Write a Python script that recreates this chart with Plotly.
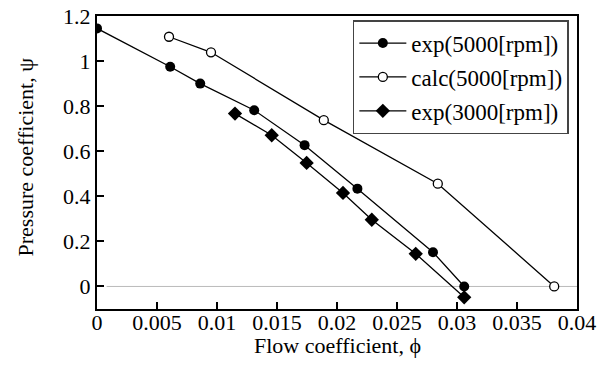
import plotly.graph_objects as go

exp5000_x = [0.0, 0.0061, 0.0086, 0.0131, 0.0173, 0.0217, 0.0280, 0.0306]
exp5000_y = [1.145, 0.975, 0.90, 0.782, 0.627, 0.434, 0.152, 0.0]
calc5000_x = [0.0060, 0.0095, 0.0189, 0.0284, 0.0381]
calc5000_y = [1.108, 1.039, 0.738, 0.456, 0.0]
exp3000_x = [0.0115, 0.01456, 0.01747, 0.0205, 0.0229, 0.02656, 0.0306]
exp3000_y = [0.767, 0.671, 0.548, 0.415, 0.296, 0.145, -0.048]

x_ticks = [0, 0.005, 0.01, 0.015, 0.02, 0.025, 0.03, 0.035, 0.04]
x_labels = ["0", "0.005", "0.01", "0.015", "0.02", "0.025", "0.03", "0.035", "0.04"]
y_ticks = [0, 0.2, 0.4, 0.6, 0.8, 1.0, 1.2]
y_labels = ["0", "0.2", "0.4", "0.6", "0.8", "1", "1.2"]

FONT = "Times New Roman, Liberation Serif, Tinos, serif"

fig = go.Figure()
fig.add_shape(type="line", xref="x", yref="y", x0=0.0008, x1=0.04, y0=0, y1=0,
              line=dict(color="#bbbbbb", width=1), layer="below")
fig.add_trace(go.Scatter(x=exp5000_x, y=exp5000_y, mode="lines+markers",
                         name="exp(5000[rpm])", legendgroup="a",
                         line=dict(color="black", width=1.3),
                         marker=dict(symbol="circle", size=10, color="black")))
fig.add_trace(go.Scatter(x=calc5000_x, y=calc5000_y, mode="lines+markers",
                         name="calc(5000[rpm])", legendgroup="b",
                         line=dict(color="black", width=1.3),
                         marker=dict(symbol="circle", size=9, color="white",
                                     line=dict(color="black", width=1.3))))
fig.add_trace(go.Scatter(x=exp3000_x, y=exp3000_y, mode="lines+markers",
                         name="exp(3000[rpm])", legendgroup="c",
                         line=dict(color="black", width=1.3),
                         marker=dict(symbol="diamond", size=11, color="black")))

fig.update_layout(
    width=611, height=365,
    margin=dict(l=97, r=34, t=16, b=56),
    paper_bgcolor="white", plot_bgcolor="white",
    font=dict(family=FONT, size=22, color="black"),
    showlegend=True,
    legend=dict(x=0.533, y=0.986, xanchor="left", yanchor="top",
                bgcolor="white", bordercolor="#444444", borderwidth=1.5,
                font=dict(family=FONT, size=23), itemwidth=47,
                tracegroupgap=1),
    annotations=[
        dict(text="Flow coefficient, \u03d5", xref="paper", yref="paper",
             x=0.5, y=0, yshift=-36, xanchor="center", yanchor="middle",
             showarrow=False, font=dict(family=FONT, size=22)),
        dict(text="Pressure coefficient, \u03c8", xref="paper", yref="paper",
             x=0, y=0.5, xshift=-72, yshift=5, xanchor="center", yanchor="middle",
             textangle=-90, showarrow=False, font=dict(family=FONT, size=22)),
    ],
)
fig.update_xaxes(range=[0, 0.04], tickvals=x_ticks, ticktext=x_labels,
                 showgrid=False, zeroline=False, showline=True, linecolor="black",
                 linewidth=2, mirror=True, ticks="inside", ticklen=7, tickwidth=1.5,
                 tickcolor="black", automargin=False, ticklabelstandoff=-7)
fig.update_yaxes(range=[-0.1, 1.2], tickvals=y_ticks, ticktext=y_labels,
                 showgrid=False, zeroline=False, showline=True, linecolor="black",
                 linewidth=2, mirror=True, ticks="inside", ticklen=7, tickwidth=1.5,
                 tickcolor="black", automargin=False)

fig.write_html("out.html", config={"displayModeBar": False},
               post_script="document.body.style.margin='0';document.body.style.padding='0';")
